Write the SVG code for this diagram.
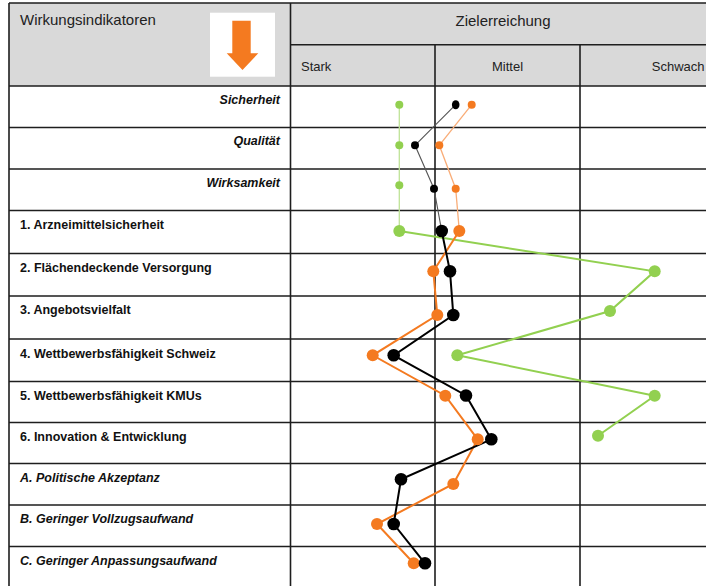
<svg xmlns="http://www.w3.org/2000/svg" width="706" height="586" viewBox="0 0 706 586">
<style>
.grid{stroke:#1e1e1e;stroke-width:1.6;fill:none}
.hdr{font-family:"Liberation Sans",Arial,sans-serif;font-size:15px;fill:#222}
.sub{font-family:"Liberation Sans",Arial,sans-serif;font-size:13px;fill:#222}
.lbl{font-family:"Liberation Sans",Arial,sans-serif;font-size:12.5px;font-weight:bold;fill:#111}
.it{font-style:italic}
.gT{stroke:#bfe397;stroke-width:1.3;fill:none}
.oT{stroke:#f9ad78;stroke-width:1.3;fill:none}
.kT{stroke:#555;stroke-width:1.1;fill:none}
.gL{stroke:#92d050;stroke-width:2;fill:none}
.oL{stroke:#f47a20;stroke-width:2;fill:none}
.kL{stroke:#000;stroke-width:2;fill:none}
.g{fill:#92d050}
.o{fill:#f47a20}
.k{fill:#000}
</style>
<rect x="0" y="0" width="706" height="586" fill="#fff"/>
<g id="table">
<rect x="9" y="3" width="700" height="83" fill="#d9d9d9"/>
<rect x="210" y="12.7" width="65" height="64" fill="#fff"/>
<polygon points="232.3,20.7 250.7,20.7 250.7,53.3 258.3,53.3 242.5,70 226.7,53.3 232.3,53.3" fill="#f47a20"/>
<path class="grid" d="M9,3H706M9,3V586M290.5,3V586M290.5,44.7H706M435,44.7V586M580,44.7V586"/>
<path class="grid" d="M9,86H706M9,127.5H706M9,169H706M9,210.5H706M9,253.5H706M9,296H706M9,339H706M9,381.5H706M9,422.5H706M9,463.5H706M9,505H706M9,546.5H706"/>
</g>
<g id="headers">
<text class="hdr" x="20" y="25">Wirkungsindikatoren</text>
<text class="hdr" x="503" y="26" text-anchor="middle">Zielerreichung</text>
<text class="sub" x="301" y="71">Stark</text>
<text class="sub" x="507.5" y="71" text-anchor="middle">Mittel</text>
<text class="sub" x="704.5" y="71" text-anchor="end">Schwach</text>
</g>
<g id="labels">
<text class="lbl it" x="280" y="103.5" text-anchor="end">Sicherheit</text>
<text class="lbl it" x="280" y="144.5" text-anchor="end">Qualität</text>
<text class="lbl it" x="280" y="186.5" text-anchor="end">Wirksamkeit</text>
<text class="lbl" x="20" y="228.5">1. Arzneimittelsicherheit</text>
<text class="lbl" x="20" y="271.5">2. Flächendeckende Versorgung</text>
<text class="lbl" x="20" y="313.5">3. Angebotsvielfalt</text>
<text class="lbl" x="20" y="357.5">4. Wettbewerbsfähigkeit Schweiz</text>
<text class="lbl" x="20" y="399.5">5. Wettbewerbsfähigkeit KMUs</text>
<text class="lbl" x="20" y="440.5">6. Innovation &amp; Entwicklung</text>
<text class="lbl it" x="20" y="481.5">A. Politische Akzeptanz</text>
<text class="lbl it" x="20" y="523">B. Geringer Vollzugsaufwand</text>
<text class="lbl it" x="20" y="564.5">C. Geringer Anpassungsaufwand</text>
</g>
<g id="connectors">
<polyline class="gT" points="399.3,104.7 399.3,145.3 399.3,185.3 399.3,231"/>
<polyline class="oT" points="471.7,104.7 439.3,145.3 455.7,188.7 459.3,231"/>
<polyline class="kT" points="455.7,104.7 415,145.3 434,188.7 441.7,231"/>
<polyline class="gL" points="399.3,231 654.7,271.3 610,311 457.3,355.3 654.7,395.7 598,435.7"/>
<polyline class="oL" points="459.3,231 433.3,271.3 437.3,315 372.7,355.3 445.3,395.7 477.7,439.3 453.3,484 377,524 413.7,563.3"/>
<polyline class="kL" points="441.7,231 450,271.3 453.3,315 393.7,355.3 466,395.5 491.3,439.3 401,479.3 393.7,524 425,563.3"/>
</g>
<g id="green-points" class="g">
<circle cx="399.3" cy="104.7" r="4"/>
<circle cx="399.3" cy="145.3" r="4"/>
<circle cx="399.3" cy="185.3" r="4"/>
<circle cx="399.3" cy="231" r="6"/>
<circle cx="654.7" cy="271.3" r="6"/>
<circle cx="610" cy="311" r="6"/>
<circle cx="457.3" cy="355.3" r="6"/>
<circle cx="654.7" cy="395.7" r="6"/>
<circle cx="598" cy="435.7" r="6"/>
</g>
<g id="orange-points" class="o">
<circle cx="471.7" cy="104.7" r="4"/>
<circle cx="439.3" cy="145.3" r="4"/>
<circle cx="455.7" cy="188.7" r="4"/>
<circle cx="459.3" cy="231" r="6"/>
<circle cx="433.3" cy="271.3" r="6"/>
<circle cx="437.3" cy="315" r="6"/>
<circle cx="372.7" cy="355.3" r="6"/>
<circle cx="445.3" cy="395.7" r="6"/>
<circle cx="477.7" cy="439.3" r="6"/>
<circle cx="453.3" cy="484" r="6"/>
<circle cx="377" cy="524" r="6"/>
<circle cx="413.7" cy="563.3" r="6"/>
</g>
<g id="black-points" class="k">
<ellipse cx="455.7" cy="104.7" rx="3.8" ry="4.5"/>
<circle cx="415" cy="145.3" r="4"/>
<circle cx="434" cy="188.7" r="4"/>
<circle cx="441.7" cy="231" r="6.3"/>
<circle cx="450" cy="271.3" r="6.3"/>
<circle cx="453.3" cy="315" r="6.3"/>
<circle cx="393.7" cy="355.3" r="6.3"/>
<circle cx="466" cy="395.5" r="6.3"/>
<circle cx="491.3" cy="439.3" r="6.3"/>
<circle cx="401" cy="479.3" r="6.3"/>
<circle cx="393.7" cy="524" r="6.3"/>
<circle cx="425" cy="563.3" r="6.3"/>
</g>
</svg>
